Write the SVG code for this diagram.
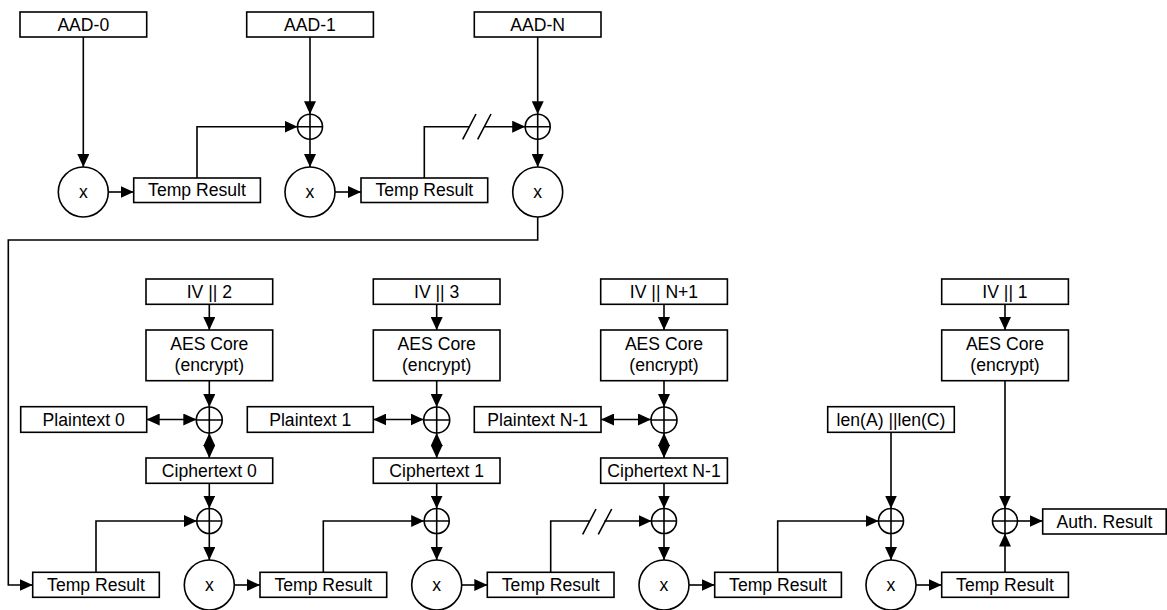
<svg xmlns="http://www.w3.org/2000/svg" width="1167" height="610" viewBox="0 0 1167 610">
<style>
  .box{fill:#fff;stroke:#000;stroke-width:1.6}
  .mul{fill:#fff;stroke:#000;stroke-width:1.6}
  .xor{fill:none;stroke:#000;stroke-width:1.6}
  .t{font-family:"Liberation Sans",Arial,sans-serif;font-size:17.6px;fill:#000;text-anchor:middle}
  .c{fill:none;stroke:#000;stroke-width:1.6}
  .a{marker-end:url(#ah)}
  .d{marker-end:url(#ah);marker-start:url(#ah)}
</style>
<defs>
  <marker id="ah" markerUnits="userSpaceOnUse" markerWidth="13" markerHeight="12" refX="13" refY="6" orient="auto-start-reverse">
    <path d="M0,0 L13,6 L0,12 z" fill="#000"/>
  </marker>
</defs>
<rect width="1167" height="610" fill="#fff"/>

<g id="connectors">
  <path class="c a" d="M83.3,37 V167"/>
  <path class="c a" d="M108.3,192 H133.7"/>
  <path class="c a" d="M197,178 V126.7 H297.5"/>
  <path class="c a" d="M310,37 V114.2"/>
  <path class="c a" d="M310,139.2 V167"/>
  <path class="c a" d="M335,192 H361"/>
  <path class="c" d="M424.3,178 V126.7 H469.5"/>
  <path class="c a" d="M484.5,126.7 H525.2"/>
  <path class="c" d="M462.7,139.3 L476,114 M477.7,139.3 L491,114"/>
  <path class="c a" d="M537.7,37 V114.2"/>
  <path class="c a" d="M537.7,139.2 V167"/>
  <path class="c a" d="M537.7,217 V240 H8.3 V585 H32.7"/>
  <path class="c a" d="M209.3,304.3 V330"/>
  <path class="c a" d="M436.7,304.3 V330"/>
  <path class="c a" d="M664,304.3 V330"/>
  <path class="c a" d="M1005,304.3 V330"/>
  <path class="c a" d="M209.3,380.7 V407"/>
  <path class="c a" d="M436.7,380.7 V407"/>
  <path class="c a" d="M664,380.7 V407"/>
  <path class="c d" d="M146.7,419.5 H196.3"/>
  <path class="c d" d="M373.3,419.5 H423.7"/>
  <path class="c d" d="M601,419.5 H651"/>
  <path class="c d" d="M209.3,433 V458"/>
  <path class="c d" d="M436.7,433 V458"/>
  <path class="c d" d="M664,433 V458"/>
  <path class="c a" d="M209.3,483.3 V508.5"/>
  <path class="c a" d="M436.7,483.3 V508.5"/>
  <path class="c a" d="M664,483.3 V508.5"/>
  <path class="c a" d="M891,432.3 V508.5"/>
  <path class="c a" d="M1005,380.7 V508.5"/>
  <path class="c a" d="M209.3,533.5 V560"/>
  <path class="c a" d="M436.7,533.5 V560"/>
  <path class="c a" d="M664,533.5 V560"/>
  <path class="c a" d="M891,533.5 V560"/>
  <path class="c a" d="M234.3,585 H260"/>
  <path class="c a" d="M461.7,585 H487.3"/>
  <path class="c a" d="M689,585 H714.7"/>
  <path class="c a" d="M916,585 H941.7"/>
  <path class="c a" d="M96,572.3 V521 H196.8"/>
  <path class="c a" d="M323.3,572.3 V521 H424.2"/>
  <path class="c" d="M550.7,572.3 V521 H589.5"/>
  <path class="c a" d="M604.5,521 H651.5"/>
  <path class="c" d="M582.7,534.3 L596,509 M598.3,534.3 L611.7,509"/>
  <path class="c a" d="M777.7,572.3 V521 H878.5"/>
  <path class="c a" d="M1005,572.3 V533.5"/>
  <path class="c a" d="M1017.5,521 H1042.7"/>
</g>

<g id="aad0"><rect class="box" x="20" y="12" width="126.7" height="25"/><text class="t" x="83.3" y="30.5">AAD-0</text></g>
<g id="aad1"><rect class="box" x="246.7" y="12" width="126.7" height="25"/><text class="t" x="310" y="30.5">AAD-1</text></g>
<g id="aadn"><rect class="box" x="474.3" y="12" width="126.7" height="25"/><text class="t" x="537.7" y="30.5">AAD-N</text></g>

<g id="xor_t1"><circle class="xor" cx="310" cy="126.7" r="12.5"/><path class="xor" d="M297.5,126.7 H322.5 M310,114.2 V139.2"/></g>
<g id="xor_t2"><circle class="xor" cx="537.7" cy="126.7" r="12.5"/><path class="xor" d="M525.2,126.7 H550.2 M537.7,114.2 V139.2"/></g>

<g id="mul_t0"><circle class="mul" cx="83.3" cy="192" r="25"/><text class="t" x="83.3" y="198">x</text></g>
<g id="mul_t1"><circle class="mul" cx="310" cy="192" r="25"/><text class="t" x="310" y="198">x</text></g>
<g id="mul_t2"><circle class="mul" cx="537.7" cy="192" r="25"/><text class="t" x="537.7" y="198">x</text></g>

<g id="tr_t0"><rect class="box" x="133.7" y="178" width="126.7" height="24.5"/><text class="t" x="197" y="196">Temp Result</text></g>
<g id="tr_t1"><rect class="box" x="361" y="178" width="126.7" height="24.5"/><text class="t" x="424.3" y="196">Temp Result</text></g>

<g id="iv2"><rect class="box" x="146" y="279" width="126.7" height="25.3"/><text class="t" x="209.3" y="297.5">IV || 2</text></g>
<g id="iv3"><rect class="box" x="373.3" y="279" width="126.7" height="25.3"/><text class="t" x="436.7" y="297.5">IV || 3</text></g>
<g id="ivn1"><rect class="box" x="600.7" y="279" width="126.7" height="25.3"/><text class="t" x="664" y="297.5">IV || N+1</text></g>
<g id="iv1"><rect class="box" x="941.7" y="279" width="126.7" height="25.3"/><text class="t" x="1005" y="297.5">IV || 1</text></g>

<g id="aes0"><rect class="box" x="146" y="330" width="126.7" height="50.7"/><text class="t" x="209.3" y="350">AES Core</text><text class="t" x="209.3" y="371">(encrypt)</text></g>
<g id="aes1"><rect class="box" x="373.3" y="330" width="126.7" height="50.7"/><text class="t" x="436.7" y="350">AES Core</text><text class="t" x="436.7" y="371">(encrypt)</text></g>
<g id="aes2"><rect class="box" x="600.7" y="330" width="126.7" height="50.7"/><text class="t" x="664" y="350">AES Core</text><text class="t" x="664" y="371">(encrypt)</text></g>
<g id="aes3"><rect class="box" x="941.7" y="330" width="126.7" height="50.7"/><text class="t" x="1005" y="350">AES Core</text><text class="t" x="1005" y="371">(encrypt)</text></g>

<g id="pt0"><rect class="box" x="20.7" y="406.7" width="126" height="25.6"/><text class="t" x="83.7" y="425.5">Plaintext 0</text></g>
<g id="pt1"><rect class="box" x="247.3" y="406.7" width="126" height="25.6"/><text class="t" x="310.3" y="425.5">Plaintext 1</text></g>
<g id="ptn"><rect class="box" x="474.3" y="406.7" width="126.7" height="25.6"/><text class="t" x="537.7" y="425.5">Plaintext N-1</text></g>
<g id="len"><rect class="box" x="827.7" y="406.7" width="126.6" height="25.6"/><text class="t" x="891" y="425.5">len(A) ||len(C)</text></g>

<g id="xor_e0"><circle class="xor" cx="209.3" cy="420" r="13"/><path class="xor" d="M196.3,420 H222.3 M209.3,407 V433"/></g>
<g id="xor_e1"><circle class="xor" cx="436.7" cy="420" r="13"/><path class="xor" d="M423.7,420 H449.7 M436.7,407 V433"/></g>
<g id="xor_e2"><circle class="xor" cx="664" cy="420" r="13"/><path class="xor" d="M651,420 H677 M664,407 V433"/></g>

<g id="ct0"><rect class="box" x="146" y="458" width="126.7" height="25.3"/><text class="t" x="209.3" y="476.5">Ciphertext 0</text></g>
<g id="ct1"><rect class="box" x="373.3" y="458" width="126.7" height="25.3"/><text class="t" x="436.7" y="476.5">Ciphertext 1</text></g>
<g id="ctn"><rect class="box" x="600.7" y="458" width="126.7" height="25.3"/><text class="t" x="664" y="476.5">Ciphertext N-1</text></g>

<g id="xor_b0"><circle class="xor" cx="209.3" cy="521" r="12.5"/><path class="xor" d="M196.8,521 H221.8 M209.3,508.5 V533.5"/></g>
<g id="xor_b1"><circle class="xor" cx="436.7" cy="521" r="12.5"/><path class="xor" d="M424.2,521 H449.2 M436.7,508.5 V533.5"/></g>
<g id="xor_b2"><circle class="xor" cx="664" cy="521" r="12.5"/><path class="xor" d="M651.5,521 H676.5 M664,508.5 V533.5"/></g>
<g id="xor_b3"><circle class="xor" cx="891" cy="521" r="12.5"/><path class="xor" d="M878.5,521 H903.5 M891,508.5 V533.5"/></g>
<g id="xor_b4"><circle class="xor" cx="1005" cy="521" r="12.5"/><path class="xor" d="M992.5,521 H1017.5 M1005,508.5 V533.5"/></g>

<g id="mul_b0"><circle class="mul" cx="209.3" cy="585" r="25"/><text class="t" x="209.3" y="591">x</text></g>
<g id="mul_b1"><circle class="mul" cx="436.7" cy="585" r="25"/><text class="t" x="436.7" y="591">x</text></g>
<g id="mul_b2"><circle class="mul" cx="664" cy="585" r="25"/><text class="t" x="664" y="591">x</text></g>
<g id="mul_b3"><circle class="mul" cx="891" cy="585" r="25"/><text class="t" x="891" y="591">x</text></g>

<g id="tr_b0"><rect class="box" x="32.7" y="572.3" width="126.6" height="25"/><text class="t" x="96" y="591">Temp Result</text></g>
<g id="tr_b1"><rect class="box" x="260" y="572.3" width="126.7" height="25"/><text class="t" x="323.3" y="591">Temp Result</text></g>
<g id="tr_b2"><rect class="box" x="487.3" y="572.3" width="126.7" height="25"/><text class="t" x="550.7" y="591">Temp Result</text></g>
<g id="tr_b3"><rect class="box" x="714.7" y="572.3" width="126.7" height="25"/><text class="t" x="778" y="591">Temp Result</text></g>
<g id="tr_b4"><rect class="box" x="941.7" y="572.3" width="126.7" height="25"/><text class="t" x="1005" y="591">Temp Result</text></g>

<g id="auth"><rect class="box" x="1042.7" y="509" width="123.5" height="25"/><text class="t" x="1104.5" y="527.5">Auth. Result</text></g>
</svg>
